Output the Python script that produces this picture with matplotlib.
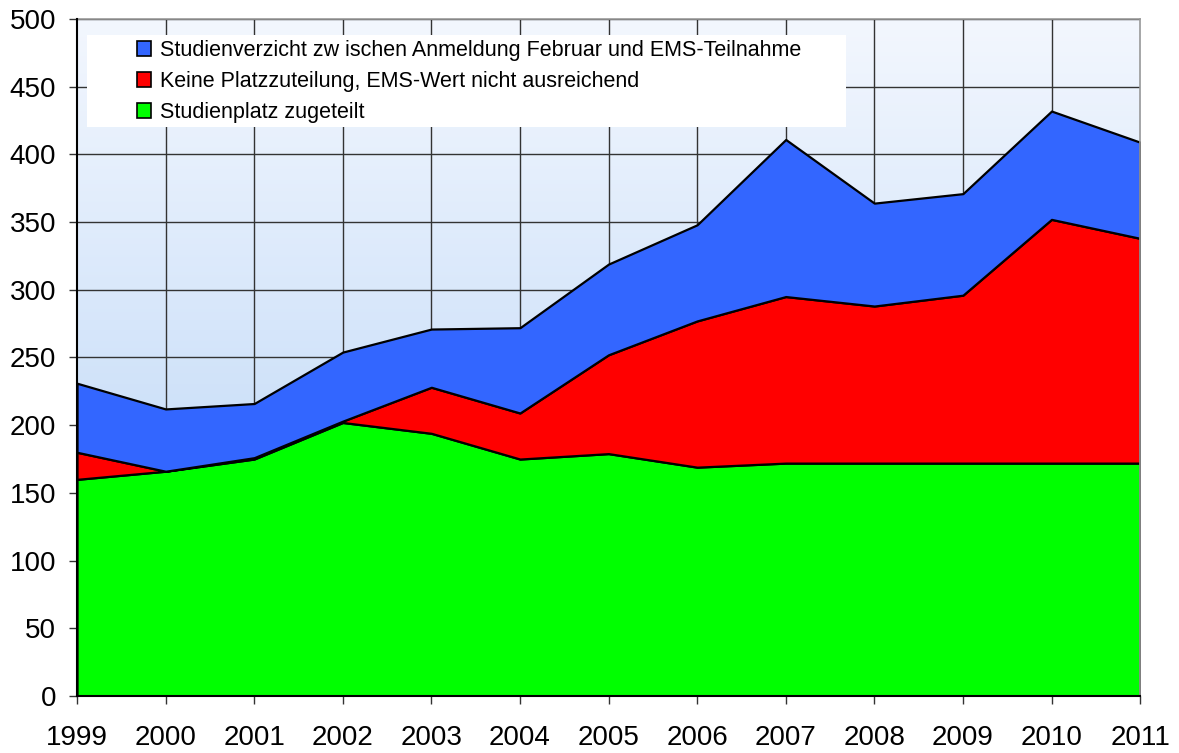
import numpy as np
import matplotlib
matplotlib.use("Agg")
import matplotlib.pyplot as plt
from matplotlib.patches import Rectangle

plt.rcParams['font.family'] = ['Liberation Sans', 'DejaVu Sans']

years = [1999, 2000, 2001, 2002, 2003, 2004, 2005, 2006, 2007, 2008, 2009, 2010, 2011]
# stacked layers, bottom to top
zugeteilt = [160, 166, 175, 202, 194, 175, 179, 169, 172, 172, 172, 172, 172]
keine_platz = [20, 0, 1, 1, 34, 34, 73, 108, 123, 116, 124, 180, 166]
verzicht = [51, 46, 40, 51, 43, 63, 67, 71, 116, 76, 75, 80, 71]

labels = ["Studienplatz zugeteilt",
          "Keine Platzzuteilung, EMS-Wert nicht ausreichend",
          "Studienverzicht zw ischen Anmeldung Februar und EMS-Teilnahme"]
colors = ["#00ff00", "#ff0000", "#3366ff"]
yticks = np.arange(0, 501, 50)

fig = plt.figure(figsize=(11.79, 7.53), dpi=100)
ax = fig.add_axes([0.0653, 0.0757, 0.9017, 0.8991])

# gradient background of the plot area
top_c = np.array([243, 247, 254]) / 255
bot_c = np.array([180, 210, 246]) / 255
t = np.linspace(0, 1, 256)[:, None]
grad = (top_c * (1 - t) + bot_c * t)[:, None, :].repeat(2, axis=1)
ax.imshow(grad, extent=[0, 1, 0, 1], transform=ax.transAxes, aspect='auto', zorder=0)

# grid
for yv in yticks[1:]:
    ax.axhline(yv, color="#333333", lw=1.0, zorder=1)
for xv in years[1:-1]:
    ax.axvline(xv, color="#333333", lw=1.0, zorder=1)

polys = ax.stackplot(years, zugeteilt, keine_platz, verzicht, colors=colors,
                     edgecolor="black", linewidth=1.6, zorder=2, labels=labels)

# legend box
ax.add_patch(Rectangle((0.0094, 0.840), 0.714, 0.136, transform=ax.transAxes,
                       facecolor="white", edgecolor="none", zorder=3))
handles = polys[::-1]
leg = ax.legend(handles, labels[::-1], loc="upper left", bbox_to_anchor=(0.056, 0.969),
                frameon=False, fontsize=15.5, borderpad=0, borderaxespad=0,
                handlelength=0.68, handleheight=0.68, handletextpad=0.4, labelspacing=0.47)
for h in leg.legend_handles:
    h.set_edgecolor("black")
    h.set_linewidth(1.2)
leg.set_zorder(4)

ax.set_xlim(1999, 2011)
ax.set_ylim(0, 500)
ax.set_xticks(years)
ax.set_yticks(yticks)
ax.tick_params(axis="both", labelsize=20, direction="out", length=6, width=1, color="#333333")
ax.tick_params(axis="y", pad=9)
ax.tick_params(axis="x", pad=15)

for s in ["left", "bottom"]:
    ax.spines[s].set_color("black")
    ax.spines[s].set_linewidth(1.5)
    ax.spines[s].set_zorder(5)
for s in ["top", "right"]:
    ax.spines[s].set_color("#999999")
    ax.spines[s].set_linewidth(1.2)

fig.savefig("out.png", dpi=100)
